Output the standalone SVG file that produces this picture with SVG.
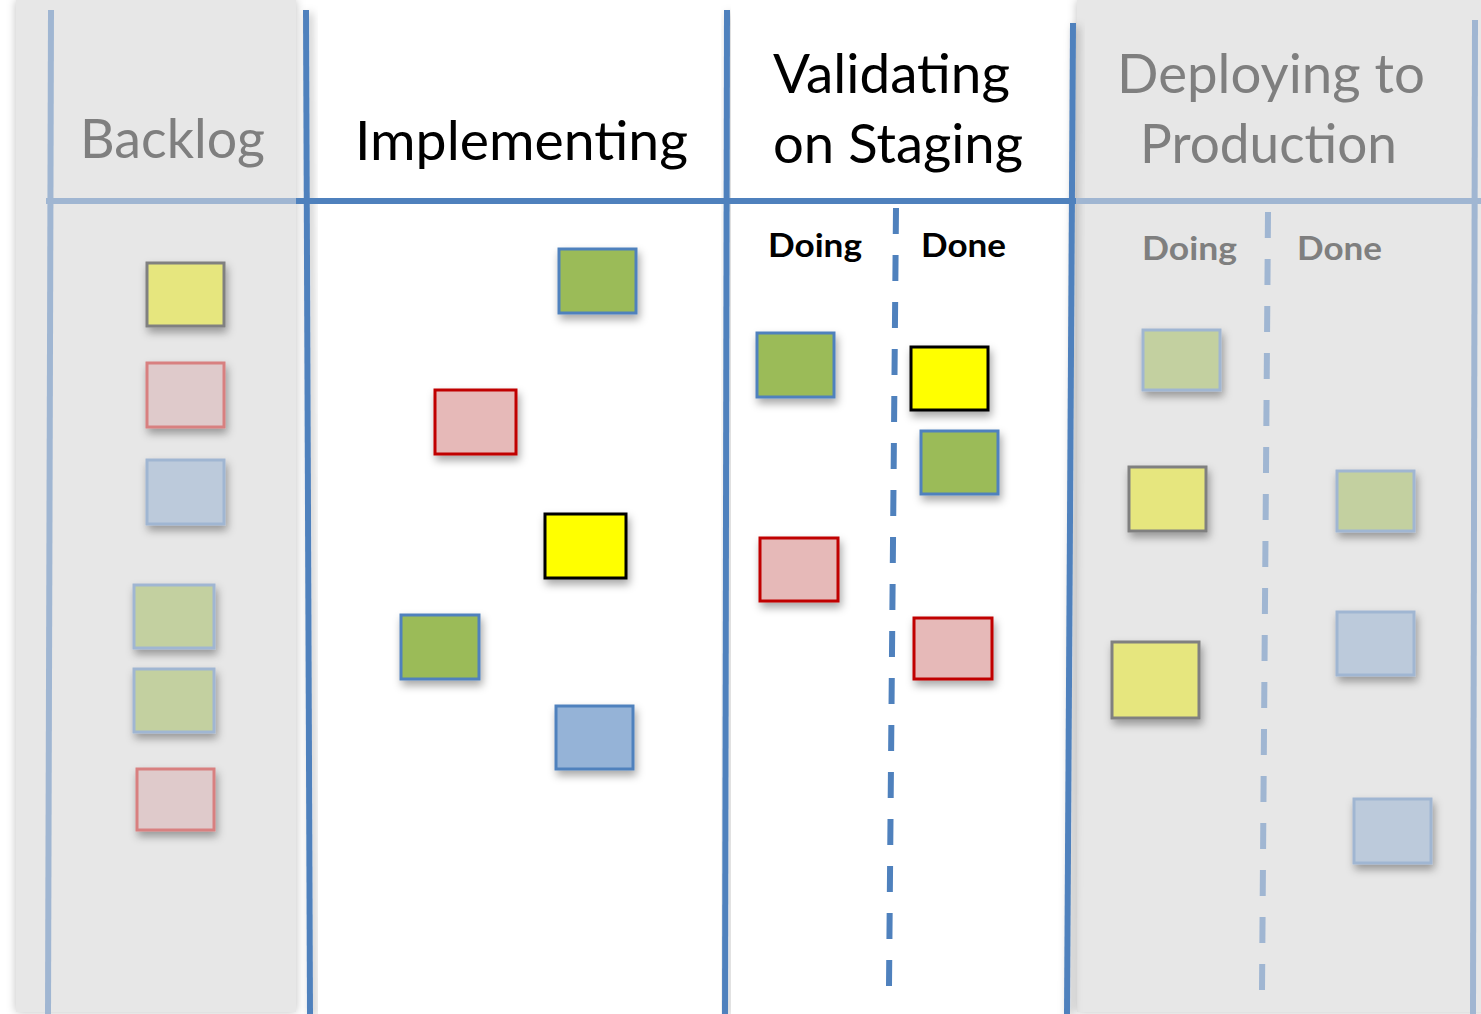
<svg xmlns="http://www.w3.org/2000/svg" width="1481" height="1014" viewBox="0 0 1481 1014">
<defs>
<filter id="sh" x="-30%" y="-30%" width="170%" height="170%">
<feDropShadow dx="2" dy="5" stdDeviation="4" flood-color="#000" flood-opacity="0.35"/>
</filter>
<filter id="psh" x="-10%" y="-5%" width="120%" height="110%">
<feDropShadow dx="0" dy="0" stdDeviation="5" flood-color="#000" flood-opacity="0.25"/>
</filter>
<filter id="lsh" x="-200%" y="-5%" width="500%" height="110%">
<feDropShadow dx="3" dy="3" stdDeviation="4" flood-color="#000" flood-opacity="0.25"/>
</filter>
</defs>
<style>
.panel{fill:#e7e7e7}
.dk{stroke:#4f81bd;stroke-width:6;fill:none}
.lt{stroke:#a0b6d2;stroke-width:6;fill:none}
.dash{stroke-dasharray:26 21}
.h{font-family:Lato,"Open Sans",sans-serif;font-size:54px}
.hg{fill:#7f7f7f}
.hb{fill:#000}
.s{font-family:Lato,"Open Sans",sans-serif;font-size:33px;font-weight:bold}
.n{stroke-width:3;filter:url(#sh)}
.yb{fill:#ffff00;stroke:#000}
.gb{fill:#9bbb59;stroke:#4f81bd}
.pb{fill:#e6b9b8;stroke:#c00000}
.bb{fill:#95b3d7;stroke:#4f81bd}
.yp{fill:#e6e67e;stroke:#808080}
.gp{fill:#c3d0a0;stroke:#a0b6d2}
.pp{fill:#dfcacb;stroke:#d88080}
.bp{fill:#bccadb;stroke:#a0b6d2}
</style>
<rect width="1481" height="1014" fill="#fff"/>
<g id="panels">
<rect class="panel" x="16" y="0" width="280" height="1012" filter="url(#psh)"/>
<rect class="panel" x="1077" y="0" width="420" height="1012" filter="url(#psh)"/>
</g>
<g id="connectors">
<line class="lt" x1="51" y1="10" x2="48" y2="1014"/>
<line class="dk" x1="306" y1="10" x2="310" y2="1014" filter="url(#lsh)"/>
<line class="dk" x1="727" y1="10" x2="725" y2="1014" filter="url(#lsh)"/>
<line class="dk" x1="1073" y1="23" x2="1067" y2="1014" filter="url(#lsh)"/>
<line class="lt" x1="1475" y1="20" x2="1473" y2="1014"/>
<line class="lt" x1="46" y1="201" x2="300" y2="201"/>
<line class="dk" x1="296" y1="201" x2="1076" y2="201"/>
<line class="lt" x1="1076" y1="201" x2="1481" y2="201"/>
<line class="dk dash" x1="896" y1="208" x2="889" y2="986" stroke-width="7"/>
<line class="lt dash" x1="1268" y1="212" x2="1262" y2="990" stroke-width="7"/>
</g>
<g id="headers">
<text class="h hg" x="80" y="158" textLength="185" lengthAdjust="spacingAndGlyphs">Backlog</text>
<text class="h hb" x="355" y="160" textLength="333" lengthAdjust="spacingAndGlyphs">Implementing</text>
<text class="h hb" x="773" y="93" textLength="237" lengthAdjust="spacingAndGlyphs">Validating</text>
<text class="h hb" x="773" y="163" textLength="250" lengthAdjust="spacingAndGlyphs">on Staging</text>
<text class="h hg" x="1117" y="93" textLength="308" lengthAdjust="spacingAndGlyphs">Deploying to</text>
<text class="h hg" x="1140" y="163" textLength="257" lengthAdjust="spacingAndGlyphs">Production</text>
<text class="s hb" x="768" y="257" textLength="94" lengthAdjust="spacingAndGlyphs">Doing</text>
<text class="s hb" x="921" y="257" textLength="85" lengthAdjust="spacingAndGlyphs">Done</text>
<text class="s hg" x="1142" y="260" textLength="95" lengthAdjust="spacingAndGlyphs">Doing</text>
<text class="s hg" x="1297" y="260" textLength="85" lengthAdjust="spacingAndGlyphs">Done</text>
</g>
<g id="backlog-notes">
<rect id="b1" class="n yp" x="147" y="263" width="77" height="63"/>
<rect id="b2" class="n pp" x="147" y="363" width="77" height="64"/>
<rect id="b3" class="n bp" x="147" y="460" width="77" height="64"/>
<rect id="b4" class="n gp" x="134" y="585" width="80" height="63"/>
<rect id="b5" class="n gp" x="134" y="669" width="80" height="63"/>
<rect id="b6" class="n pp" x="137" y="769" width="77" height="61"/>
</g>
<g id="implementing-notes">
<rect id="i1" class="n gb" x="559" y="249" width="77" height="64"/>
<rect id="i2" class="n pb" x="435" y="390" width="81" height="64"/>
<rect id="i3" class="n yb" x="545" y="514" width="81" height="64"/>
<rect id="i4" class="n gb" x="401" y="615" width="78" height="64"/>
<rect id="i5" class="n bb" x="556" y="706" width="77" height="63"/>
</g>
<g id="validating-notes">
<rect id="v1" class="n gb" x="757" y="333" width="77" height="64"/>
<rect id="v2" class="n yb" x="911" y="347" width="77" height="63"/>
<rect id="v3" class="n gb" x="921" y="431" width="77" height="63"/>
<rect id="v4" class="n pb" x="760" y="538" width="78" height="63"/>
<rect id="v5" class="n pb" x="914" y="618" width="78" height="61"/>
</g>
<g id="deploying-notes">
<rect id="d1" class="n gp" x="1143" y="330" width="77" height="60"/>
<rect id="d2" class="n yp" x="1129" y="467" width="77" height="64"/>
<rect id="d3" class="n yp" x="1112" y="642" width="87" height="76"/>
<rect id="d4" class="n gp" x="1337" y="471" width="77" height="60"/>
<rect id="d5" class="n bp" x="1337" y="612" width="77" height="63"/>
<rect id="d6" class="n bp" x="1354" y="799" width="77" height="64"/>
</g>
</svg>
